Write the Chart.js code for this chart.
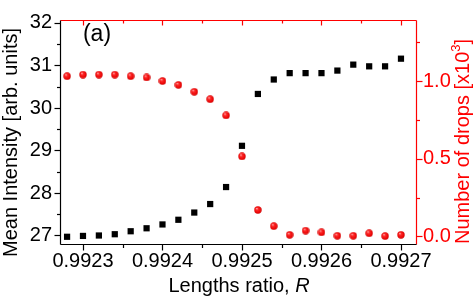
<!DOCTYPE html>
<html lang="en">
<head>
<meta charset="UTF-8">
<title>Mean intensity and number of drops vs lengths ratio</title>
<script src="https://cdn.jsdelivr.net/npm/chart.js"></script>
<style>
  html, body { margin: 0; padding: 0; background: #fff; }
  #chart { display: block; }
</style>
</head>
<body>
<canvas id="chart" width="473" height="296"></canvas>
<script>
// values
const ratios = [0.99228, 0.99230, 0.99232, 0.99234, 0.99236, 0.99238, 0.99240, 0.99242,
                0.99244, 0.99246, 0.99248, 0.99250, 0.99252, 0.99254, 0.99256, 0.99258,
                0.99260, 0.99262, 0.99264, 0.99266, 0.99268, 0.99270];
const meanIntensity = [26.97, 26.99, 27.00, 27.03, 27.10, 27.17, 27.26, 27.37,
                       27.54, 27.74, 28.14, 29.11, 30.33, 30.67, 30.82, 30.82,
                       30.82, 30.88, 31.02, 30.98, 30.98, 31.16];
// number of drops, in units of 10^3
const drops = [1.031, 1.041, 1.041, 1.041, 1.031, 1.023, 1.000, 0.975,
               0.931, 0.883, 0.779, 0.515, 0.170, 0.066, 0.010, 0.037,
               0.026, 0.004, 0.004, 0.020, 0.002, 0.010];

const xTicks = [0.9923, 0.9924, 0.9925, 0.9926, 0.9927];
const leftTicks = [27, 28, 29, 30, 31, 32];
const rightTicks = [0.0, 0.5, 1.0];

const RED = '#ff0000';
const FONT = '"Liberation Sans", Arial, sans-serif';

// little shaded ball used for the red markers
function makeSphere(d) {
    const c = document.createElement('canvas');
    c.width = c.height = d;
    const g = c.getContext('2d');
    const r = d / 2;
    const grad = g.createRadialGradient(r * 0.7, r * 0.6, 0, r, r, r);
    grad.addColorStop(0, '#ffd0d0');
    grad.addColorStop(0.3, '#ff2a2a');
    grad.addColorStop(0.85, '#e60000');
    grad.addColorStop(1, '#b80000');
    g.fillStyle = grad;
    g.beginPath();
    g.arc(r, r, r - 0.3, 0, Math.PI * 2);
    g.fill();
    return c;
}

function minorsOf(ticks, min, max) {
    const step = ticks[1] - ticks[0];
    const out = [];
    for (let i = -1; i < ticks.length; i++) {
        const v = ticks[0] + (i + 0.5) * step;
        if (v > min && v < max) out.push(v);
    }
    return out;
}

// axis frame, tick marks, titles
const framePlugin = {
    id: 'frame',
    beforeDatasetsDraw(chart) {
        const { ctx, chartArea: a, scales } = chart;
        const L = a.left + 0.5, R = a.right + 0.5, T = a.top + 0.5, B = a.bottom + 0.5;
        const seg = (x1, y1, x2, y2) => { ctx.beginPath(); ctx.moveTo(x1, y1); ctx.lineTo(x2, y2); ctx.stroke(); };
        ctx.save();
        ctx.lineWidth = 1.2;

        // x ticks: bottom black outward, top red inward
        const xs = scales.x;
        xTicks.forEach(v => {
            const px = Math.round(xs.getPixelForValue(v)) + 0.5;
            ctx.strokeStyle = '#000'; seg(px, B, px, B + 6);
            ctx.strokeStyle = RED; seg(px, T, px, T + 5);
        });
        minorsOf(xTicks, xs.min, xs.max).forEach(v => {
            const px = Math.round(xs.getPixelForValue(v)) + 0.5;
            ctx.strokeStyle = '#000'; seg(px, B, px, B + 3.5);
            ctx.strokeStyle = RED; seg(px, T, px, T + 3);
        });

        // left ticks
        const ys = scales.y;
        ctx.strokeStyle = '#000';
        leftTicks.forEach(v => {
            const py = Math.round(ys.getPixelForValue(v)) + 0.5;
            seg(L, py, L - 6, py);
        });
        minorsOf(leftTicks, ys.min, ys.max).forEach(v => {
            const py = Math.round(ys.getPixelForValue(v)) + 0.5;
            seg(L, py, L - 3.5, py);
        });

        // right ticks
        const y1 = scales.y1;
        ctx.strokeStyle = RED;
        rightTicks.forEach(v => {
            const py = Math.round(y1.getPixelForValue(v)) + 0.5;
            seg(R, py, R + 6, py);
        });
        minorsOf(rightTicks, y1.min, y1.max).forEach(v => {
            const py = Math.round(y1.getPixelForValue(v)) + 0.5;
            seg(R, py, R + 3.5, py);
        });

        // frame
        ctx.strokeStyle = RED;
        seg(L, T, R, T);
        seg(R, T, R, B);
        ctx.strokeStyle = '#000';
        seg(L, T, L, B);
        seg(L, B, R, B);
        ctx.restore();
    },
    afterDraw(chart) {
        const { ctx } = chart;
        ctx.save();
        ctx.textBaseline = 'alphabetic';

        // left title
        ctx.fillStyle = '#000';
        ctx.font = '20px ' + FONT;
        ctx.translate(17, 142.5);
        ctx.rotate(-Math.PI / 2);
        ctx.textAlign = 'center';
        ctx.fillText('Mean Intensity [arb. units]', 0, 0);
        ctx.setTransform(1, 0, 0, 1, 0, 0);

        // right title with superscript
        ctx.fillStyle = RED;
        ctx.translate(469, 141.5);
        ctx.rotate(-Math.PI / 2);
        ctx.textAlign = 'left';
        const partA = 'Number of drops [x10', sup = '3', partB = ']';
        ctx.font = '20px ' + FONT;
        const wA = ctx.measureText(partA).width, wB = ctx.measureText(partB).width;
        ctx.font = '13px ' + FONT;
        const wS = ctx.measureText(sup).width;
        const x0 = -(wA + wS + wB) / 2;
        ctx.font = '20px ' + FONT;
        ctx.fillText(partA, x0, 0);
        ctx.font = '13px ' + FONT;
        ctx.fillText(sup, x0 + wA, -9);
        ctx.font = '20px ' + FONT;
        ctx.fillText(partB, x0 + wA + wS, 0);
        ctx.setTransform(1, 0, 0, 1, 0, 0);

        // x title with italic R
        ctx.fillStyle = '#000';
        const t1 = 'Lengths ratio, ', t2 = 'R';
        ctx.font = '20px ' + FONT;
        const w1 = ctx.measureText(t1).width;
        ctx.font = 'italic 20px ' + FONT;
        const w2 = ctx.measureText(t2).width;
        const xs = 239 - (w1 + w2) / 2;
        ctx.textAlign = 'left';
        ctx.font = '20px ' + FONT;
        ctx.fillText(t1, xs, 291.5);
        ctx.font = 'italic 20px ' + FONT;
        ctx.fillText(t2, xs + w1, 291.5);

        // panel label
        ctx.font = '23px ' + FONT;
        ctx.textAlign = 'center';
        ctx.fillText('(a)', 97, 41);
        ctx.restore();
    }
};

const ctx = document.getElementById('chart').getContext('2d');
const chart = new Chart(ctx, {
    type: 'scatter',
    data: {
        datasets: [
            {
                label: 'Mean intensity',
                data: ratios.map((r, i) => ({ x: r, y: meanIntensity[i] })),
                yAxisID: 'y',
                pointStyle: 'rect',
                pointRadius: 4.4,
                backgroundColor: '#000',
                borderWidth: 0
            },
            {
                label: 'Number of drops',
                data: ratios.map((r, i) => ({ x: r, y: drops[i] })),
                yAxisID: 'y1',
                pointStyle: makeSphere(8),
                pointRadius: 4
            }
        ]
    },
    options: {
        responsive: false,
        animation: false,
        devicePixelRatio: 1,
        layout: { padding: { top: 9, left: 0, right: 0, bottom: 0 } },
        plugins: { legend: { display: false }, tooltip: { enabled: false } },
        scales: {
            x: {
                type: 'linear',
                position: 'bottom',
                min: 0.9922711,
                max: 0.9927189,
                grid: { display: false, drawTicks: false },
                border: { display: false },
                afterBuildTicks: s => { s.ticks = xTicks.map(v => ({ value: v })); },
                afterFit: s => { s.height = 52; },
                ticks: {
                    padding: 5,
                    color: '#000',
                    maxRotation: 0,
                    font: { family: FONT, size: 20 },
                    callback: v => v.toFixed(4)
                }
            },
            y: {
                position: 'left',
                min: 26.8,
                max: 32.07,
                grid: { display: false, drawTicks: false },
                border: { display: false },
                afterBuildTicks: s => { s.ticks = leftTicks.map(v => ({ value: v })); },
                afterFit: s => { s.width = 60; },
                ticks: {
                    padding: 8,
                    color: '#000',
                    font: { family: FONT, size: 20 },
                    callback: v => String(v)
                }
            },
            y1: {
                position: 'right',
                min: -0.049,
                max: 1.393,
                grid: { display: false, drawTicks: false },
                border: { display: false },
                afterBuildTicks: s => { s.ticks = rightTicks.map(v => ({ value: v })); },
                afterFit: s => { s.width = 57; },
                ticks: {
                    padding: 7,
                    color: RED,
                    font: { family: FONT, size: 20 },
                    callback: v => v.toFixed(1)
                }
            }
        }
    },
    plugins: [framePlugin]
});
</script>
</body>
</html>
